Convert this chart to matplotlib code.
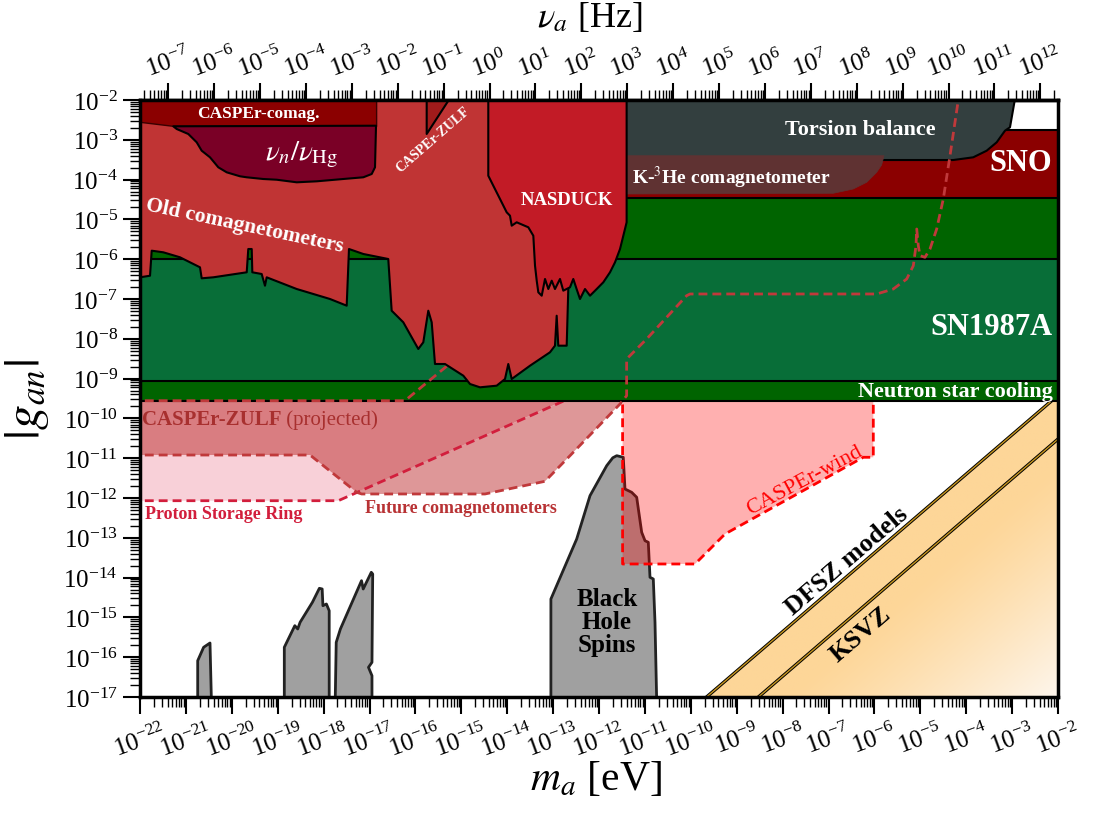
import numpy as np
import matplotlib
matplotlib.use("Agg")
import matplotlib.pyplot as plt
from matplotlib.patches import Polygon
from matplotlib.ticker import FixedLocator, LogLocator, NullFormatter

plt.rcParams['font.family'] = ['Liberation Serif', 'DejaVu Serif']
plt.rcParams['mathtext.fontset'] = 'stix'

# ---- data: log10(m_a / eV) and log10(|g_an|) ----
m_range = (-22, -2)
g_range = (-17, -2)

ns_cooling_g = (-9.57, -4.0)
sn1987a_g = (-9.05, -6.0)
sno_g = (-4.47, -2.755)

torsion_logm = [-13.0, -2.865, -3.046, -3.155, -3.336, -3.554, -3.847, -4.281, -13.0]
torsion_logg = [-1.5, -1.5, -2.686, -2.771, -3.063, -3.274, -3.440, -3.508, -3.508]

k3he_logm = [-13.0, -11.362, -6.896, -6.460, -6.168, -5.950, -5.842, -5.79, -13.0]
k3he_logg = [-4.362, -4.362, -4.344, -4.236, -4.068, -3.817, -3.633, -3.40, -3.40]

old_comag_logm = [-22.5, -22.0, -21.782, -21.745, -21.492, -21.129, -20.693, -20.656, -20.403,
                  -19.675, -19.641, -19.566, -19.553, -19.349, -19.277, -19.240, -18.586,
                  -17.861, -17.497, -17.447, -17.135, -16.591, -16.517, -16.264, -15.937,
                  -15.828, -15.719, -15.645, -15.573, -15.355, -14.956, -14.810, -14.593,
                  -14.229, -14.048, -13.976, -13.902, -13.503, -13.068, -12.959, -12.922,
                  -12.887, -12.704, -12.669, -12.669, -22.5]
old_comag_logg = [-6.455, -6.455, -6.415, -5.786, -5.827, -5.952, -6.204, -6.480, -6.455,
                  -6.329, -5.744, -5.744, -6.329, -6.372, -6.666, -6.455, -6.749,
                  -7.0, -7.168, -5.744, -5.869, -5.995, -7.294, -7.585, -8.256,
                  -8.088, -7.294, -7.585, -8.633, -8.633, -8.927, -9.136, -9.219,
                  -9.178, -9.010, -8.633, -9.010, -8.676, -8.339, -8.173, -7.420,
                  -8.173, -8.173, -6.749, -1.5, -1.5]

nasduck_logm = [-14.412, -14.412, -14.303, -14.157, -14.011, -13.939, -13.902, -13.793,
                -13.540, -13.431, -13.394, -13.357, -13.322, -13.248, -13.176, -13.104,
                -13.030, -12.959, -12.850, -12.778, -12.632, -12.560, -12.488, -12.414,
                -12.305, -12.196, -12.050, -11.906, -11.760, -11.651, -11.542, -11.470,
                -11.398, -11.398]
nasduck_logg = [-1.5, -3.902, -4.153, -4.487, -4.822, -4.907, -5.158, -5.073,
                -5.198, -5.410, -6.163, -6.540, -6.832, -6.917, -6.497, -6.749,
                -6.540, -6.749, -6.497, -6.791, -6.706, -6.497, -6.749, -7.0,
                -6.749, -6.917, -6.749, -6.580, -6.329, -6.078, -5.744, -5.410,
                -5.073, -1.5]

caspe_comag_logm = [-22.5, -16.845, -16.845, -21.275, -22.0, -22.5]
caspe_comag_logg = [-1.5, -1.5, -2.661, -2.661, -2.56, -2.56]

nuhg_logm = [-21.275, -16.858, -16.880, -16.952, -17.135, -17.571, -18.150, -18.586, -19.022,
             -19.314, -19.675, -19.821, -20.111, -20.294, -20.475, -20.656, -20.765,
             -20.948, -21.200]
nuhg_logg = [-2.661, -2.646, -3.691, -3.859, -3.942, -3.985, -4.043, -4.068, -4.003,
             -3.985, -3.942, -3.917, -3.817, -3.691, -3.440, -3.274, -3.063,
             -2.854, -2.729]

zulf_limit_logm = [-15.754, -14.99, -15.754]
zulf_limit_logg = [-1.5, -1.5, -2.854]

bh1_logm = [-20.743, -20.743, -20.614, -20.475, -20.444]
bh1_logg = [-17.1, -16.088, -15.751, -15.643, -17.1]
bh2_logm = [-18.856, -18.856, -18.627, -18.564, -18.512, -18.244, -18.092, -18.031, -18.015,
            -17.939, -17.878, -17.878]
bh2_logg = [-17.1, -15.751, -15.208, -15.291, -15.123, -14.621, -14.269, -14.286, -14.706,
            -14.663, -14.832, -17.1]
bh3_logm = [-17.747, -17.725, -17.634, -17.174, -17.137, -16.961, -16.930, -16.946, -17.022,
            -16.946, -16.946]
bh3_logg = [-17.1, -15.626, -15.291, -14.078, -14.286, -13.867, -13.910, -16.128, -16.254,
            -16.465, -17.1]
bh4_logm = [-13.048, -13.048, -12.486, -12.196, -11.832, -11.700, -11.614, -11.471, -11.434,
            -11.288, -11.179, -11.070, -10.998, -10.926, -10.889, -10.817, -10.780, -10.743]
bh4_logg = [-17.1, -14.538, -13.030, -11.942, -11.188, -10.990, -10.937, -10.977, -11.774,
            -11.857, -11.982, -12.862, -13.073, -13.113, -13.992, -14.035, -15.123, -17.1]

# projections
zulf_proj_top_logm = [-22.5, -16.227, -15.392, -14.5]
zulf_proj_top_logg = [-9.555, -9.555, -8.759, -7.91]
zulf_proj_bot_logm = [-22.5, -18.296, -17.279]
zulf_proj_bot_logg = [-10.920, -10.920, -11.857]

proton_logm = [-22.5, -17.680, -11.0]
proton_logg = [-12.068, -12.068, -8.66]

future_logm = [-17.279, -17.170, -14.484, -13.176, -12.632, -11.542, -11.398, -11.398, -10.962,
               -10.091, -10.017, -5.950, -5.589, -5.296, -5.152, -5.094, -5.078, -5.043,
               -5.007, -4.898, -4.789, -4.643, -4.499, -4.353, -4.172, -4.1]
future_logg = [-11.857, -11.899, -11.899, -11.580, -10.937, -9.638, -9.430, -8.508, -8.005,
               -6.917, -6.874, -6.874, -6.749, -6.497, -6.163, -5.661, -5.241, -5.661,
               -5.912, -5.952, -5.744, -5.241, -4.487, -3.399, -2.0, -1.8]

wind_logm = [-11.486, -11.486, -9.908, -9.255, -6.242, -6.024, -6.024]
wind_logg = [-9.3, -13.658, -13.658, -12.905, -10.977, -10.977, -9.3]

dfsz_logm = [-10.0, -2.0]
dfsz_logg = [-17.34, -9.42]
ksvz_logm = [-9.0, -2.0]
ksvz_logg = [-17.47, -10.52]

nu_ticks_exp = list(range(-7, 13))
eV_to_Hz = 2.418e14


def P(lm, lg):
    return np.column_stack([10.0 ** np.asarray(lm), 10.0 ** np.asarray(lg)])


def region(ax, lm, lg, fc, ec='k', lw=1.5, z=2, alpha=1.0):
    p = Polygon(P(lm, lg), closed=True, facecolor=fc, edgecolor=ec, lw=lw,
                zorder=z, alpha=alpha, joinstyle='round')
    ax.add_patch(p)
    return p


def band(ax, lo, hi, fc, z=2):
    region(ax, [-23, -1, -1, -23], [lo, lo, hi, hi], fc, z=z)


fig = plt.figure(figsize=(10.94, 8.2), dpi=100)
ax = fig.add_axes([140 / 1094, 1 - 698 / 820, 918 / 1094, 597 / 820])
ax.set_xscale('log')
ax.set_yscale('log')
ax.set_xlim(10.0 ** m_range[0], 10.0 ** m_range[1])
ax.set_ylim(10.0 ** g_range[0], 10.0 ** g_range[1])
ax.set_autoscale_on(False)

# ---- QCD axion band with gradient ----
band_patch = region(ax, [dfsz_logm[0], dfsz_logm[1], -2.0, dfsz_logm[0]],
                    [dfsz_logg[0], dfsz_logg[1], -17.6, -17.6], 'none', ec='none', z=0.4)
U, V = np.meshgrid(np.linspace(0, 1, 500), np.linspace(0, 1, 400))
d = (U - 0.617) * 0.797 - V * 0.604
t = np.clip((d - 0.07) / 0.25, 0, 1) ** 1.2
c0 = np.array([253, 214, 152]) / 255
c1 = np.array([254, 248, 242]) / 255
img = c0 * (1 - t[..., None]) + c1 * t[..., None]
im = ax.imshow(img, extent=(0, 1, 0, 1), transform=ax.transAxes, origin='lower',
               aspect='auto', zorder=0.5, interpolation='bilinear')
im.set_clip_path(band_patch)
for lm, lg in [(dfsz_logm, dfsz_logg), (ksvz_logm, ksvz_logg)]:
    ax.plot(10.0 ** np.array(lm), 10.0 ** np.array(lg), color='k', lw=2.4, zorder=0.6)
    ax.plot(10.0 ** np.array(lm), 10.0 ** np.array(lg), color='#C8961E', lw=1.0, zorder=0.7)

# ---- black hole spins ----
for lm, lg in [(bh1_logm, bh1_logg), (bh2_logm, bh2_logg), (bh3_logm, bh3_logg),
               (bh4_logm, bh4_logg)]:
    region(ax, lm, lg, '#A0A0A0', ec='#222222', lw=2.0, z=0.8)

# ---- projections ----
dash = (3.2, 1.8)
region(ax, proton_logm + [-11.0, -22.5], proton_logg + [-5.0, -5.0], '#DC143C',
       ec='none', z=1.1, alpha=0.2)
zulf_poly_m = zulf_proj_top_logm + [-12.5, -12.5] + zulf_proj_bot_logm[::-1]
zulf_poly_g = zulf_proj_top_logg + [-7.9, -9.42] + zulf_proj_bot_logg[::-1]
region(ax, zulf_poly_m, zulf_poly_g, '#C0393B', ec='none', z=1.15, alpha=0.55)
region(ax, future_logm[:7] + [-11.398], future_logg[:7] + [-8.864], '#C0393B',
       ec='none', z=1.2, alpha=0.52)
region(ax, wind_logm, wind_logg, '#FF0000', ec='none', z=1.25, alpha=0.31)

ax.plot(*P(proton_logm, proton_logg).T, color='#D21E3C', lw=2.0, dashes=dash, zorder=1.5)
ax.plot(*P(wind_logm, wind_logg).T, color='#FF0000', lw=2.0, dashes=dash, zorder=1.5)

# ---- astrophysical bounds and lab limits ----
band(ax, *ns_cooling_g, '#006400')
band(ax, *sn1987a_g, '#086E38', z=2.05)
band(ax, *sno_g, '#8B0000', z=2.1)
region(ax, torsion_logm, torsion_logg, '#333F3F', z=2.2)
region(ax, k3he_logm, k3he_logg, '#5F3232', ec='#5F3232', lw=0.5, z=2.3)

ax.plot(*P(zulf_proj_top_logm, zulf_proj_top_logg).T, color='#C0393B', lw=2.0,
        dashes=dash, zorder=2.5)
ax.plot(*P(zulf_proj_bot_logm, zulf_proj_bot_logg).T, color='#C0393B', lw=2.0,
        dashes=dash, zorder=2.5)

region(ax, old_comag_logm, old_comag_logg, '#C03434', z=3.0)
region(ax, caspe_comag_logm, caspe_comag_logg, '#8B0000', ec='#3a0000', lw=1.0, z=3.1)
region(ax, nuhg_logm, nuhg_logg, '#7A0026', z=3.2)
region(ax, zulf_limit_logm, zulf_limit_logg, '#A01B1B', z=3.2)
region(ax, nasduck_logm, nasduck_logg, '#C21B26', z=3.3)

ax.plot(*P(future_logm, future_logg).T, color='#C0393B', lw=2.0, dashes=dash, zorder=4)

# ---- labels ----
def lab(lm, lg, s, **kw):
    kw.setdefault('ha', 'center')
    kw.setdefault('va', 'center')
    kw.setdefault('zorder', 6)
    return ax.text(10.0 ** lm, 10.0 ** lg, s, **kw)


W = 'white'
lab(-19.43, -2.33, 'CASPEr-comag.', color=W, fontsize=12.5, fontweight='bold')
lab(-18.48, -3.36, r'$\nu_n/\nu_{\rm Hg}$', color=W, fontsize=21)
lab(-15.61, -2.98, 'CASPEr-ZULF', color=W, fontsize=10, fontweight='bold', rotation=41)
lab(-19.71, -5.14, 'Old comagnetometers', color=W, fontsize=15.5, fontweight='bold',
    rotation=-12)
lab(-12.69, -4.49, 'NASDUCK', color=W, fontsize=13.5, fontweight='bold')
lab(-6.30, -2.73, 'Torsion balance', color=W, fontsize=16, fontweight='bold')
lab(-11.29, -3.94, r'K-$^3$He comagnetometer', color=W, fontsize=14, fontweight='bold',
    ha='left')
lab(-2.12, -3.56, 'SNO', color=W, fontsize=22, fontweight='bold', ha='right')
lab(-2.12, -7.68, 'SN1987A', color=W, fontsize=22, fontweight='bold', ha='right')
lab(-2.12, -9.30, 'Neutron star cooling', color=W, fontsize=16, fontweight='bold', ha='right')
t1 = lab(-21.96, -10.02, 'CASPEr-ZULF', color='#A8302F', fontsize=15, fontweight='bold',
         ha='left')
ax.annotate(' (projected)', xy=(1, 0.5), xycoords=t1, color='#A8302F', fontsize=15,
            ha='left', va='center', zorder=6)
lab(-21.90, -12.40, 'Proton Storage Ring', color='#D21E3C', fontsize=13, fontweight='bold',
    ha='left')
lab(-15.01, -12.23, 'Future comagnetometers', color='#B83234', fontsize=13, fontweight='bold')
lab(-7.53, -11.55, 'CASPEr-wind', color='#FF0000', fontsize=16, rotation=28)
lab(-11.83, -15.11, 'Black\nHole\nSpins', color='k', fontsize=18, fontweight='bold',
    linespacing=1.0)
lab(-6.60, -13.57, 'DFSZ models', color='k', fontsize=19, fontweight='bold', rotation=40.6)
lab(-6.31, -15.42, 'KSVZ', color='k', fontsize=19, fontweight='bold', rotation=40.6)

# ---- axes styling ----
for s in ax.spines.values():
    s.set_linewidth(2.5)
    s.set_zorder(10)

ax.xaxis.set_major_locator(FixedLocator([10.0 ** k for k in range(m_range[0], m_range[1] + 1)]))
ax.yaxis.set_major_locator(FixedLocator([10.0 ** k for k in range(g_range[0], g_range[1] + 1)]))
for a in (ax.xaxis, ax.yaxis):
    a.set_minor_locator(LogLocator(base=10, subs=np.arange(2, 10), numticks=200))
    a.set_minor_formatter(NullFormatter())
ax.tick_params(which='both', direction='out', top=False, right=False, width=1.5)
ax.tick_params(which='major', length=12, labelsize=18, pad=4)
ax.tick_params(which='minor', length=7, width=1.0)
ax.tick_params(axis='x', which='major', labelrotation=20)

sec = ax.secondary_xaxis('top', functions=(lambda m: m * eV_to_Hz, lambda nu: nu / eV_to_Hz))
sec.set_xticks([10.0 ** k for k in nu_ticks_exp])
sec.xaxis.set_minor_locator(LogLocator(base=10, subs=np.arange(2, 10), numticks=200))
sec.xaxis.set_minor_formatter(NullFormatter())
sec.tick_params(which='both', direction='out', width=1.5)
sec.tick_params(which='major', length=12, labelsize=18, pad=2, labelrotation=20)
sec.tick_params(which='minor', length=7, width=1.0)
sec.spines['top'].set_linewidth(2.5)

fig.text(596 / 1094, 1 - 780 / 820, r'$m_a$ [eV]', fontsize=30, ha='center', va='center')
fig.text(590 / 1094, 1 - 18 / 820, r'$\nu_a$ [Hz]', fontsize=26, ha='center', va='center')
fig.text(27 / 1094, 1 - 400 / 820, r'$|g_{an}|$', fontsize=36, ha='center', va='center',
         rotation=90)

fig.savefig('out.png', dpi=100)
